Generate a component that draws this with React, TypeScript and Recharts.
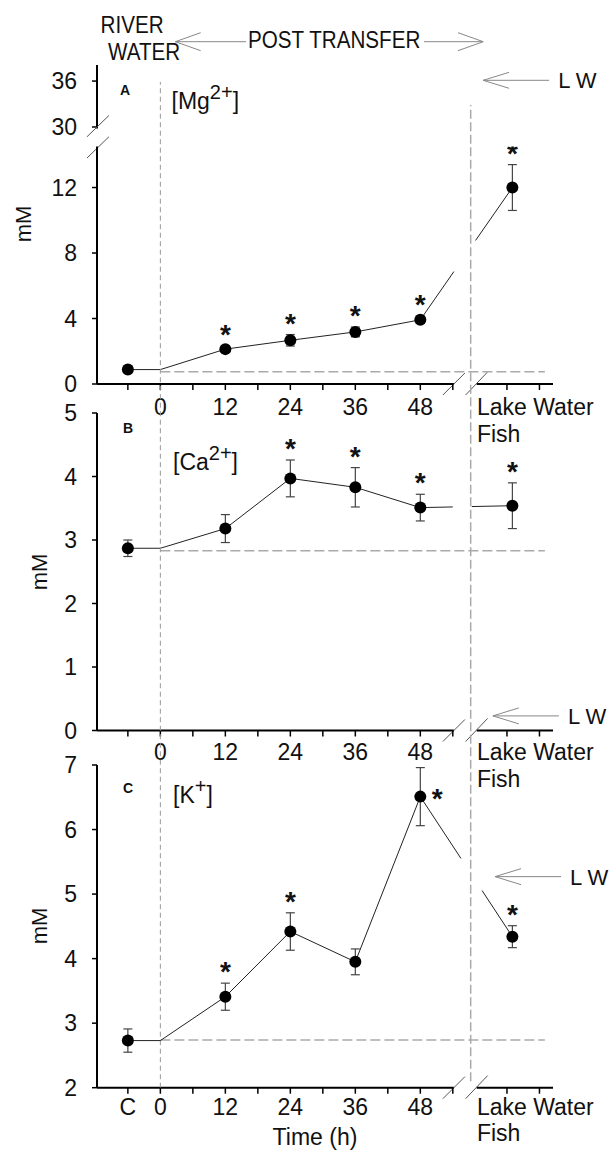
import React from 'react';
import {
  ComposedChart,
  Line,
  Scatter,
  XAxis,
  YAxis,
  ErrorBar,
  ReferenceLine,
  ReferenceDot,
} from 'recharts';

const W = 611;
const H = 1151;
const LEFT = 97;
const RIGHT = 58;
const X_MIN = -11.7;
const X_MAX = 72.5;
const FONT = "'Liberation Sans', Arial, Helvetica, sans-serif";
const INK = '#111';

// sampling times (h): -6 = river water control, 65 = lake water fish
const hours = [-6, 0, 12, 24, 36, 48, 65];

const mgMean = [0.88, 0.88, 2.13, 2.67, 3.18, 3.92, 12.0];
const mgSem = [0.12, 0, 0.2, 0.35, 0.3, 0.22, 1.4];
const mgSig = ['', '', 'top', 'top', 'top', 'top', 'top'];

const caMean = [2.87, 2.87, 3.18, 3.97, 3.83, 3.51, 3.54];
const caSem = [0.13, 0, 0.22, 0.29, 0.31, 0.21, 0.36];
const caSig = ['', '', '', 'top', 'top', 'top', 'top'];

const kMean = [2.73, 2.73, 3.41, 4.42, 3.95, 6.51, 4.34];
const kSem = [0.18, 0, 0.21, 0.29, 0.2, 0.45, 0.17];
const kSig = ['', '', 'top', 'top', '', 'right', 'top'];

// dashed control level and lake water level (arrow) for each ion
const mgCtrl = 0.75;
const caCtrl = 2.83;
const kCtrl = 2.74;
const mgLake = 36.1;
const caLake = 0.23;
const kLake = 5.27;

const xTicks = [-6, 0, 6, 12, 18, 24, 30, 36, 42, 48, 54, 64, 70];
const xTickText = ['C', '0', '', '12', '', '24', '', '36', '', '48', '', 'Lake Water', ''];

const pxPerHour = (W - LEFT - RIGHT) / (X_MAX - X_MIN);

function XTick(props: any) {
  const { x, y, payload, labelDy, showC } = props;
  const label = xTickText[xTicks.indexOf(payload.value)];
  if (!label || (label === 'C' && !showC)) return null;
  if (label === 'Lake Water') {
    return (
      <g fontFamily={FONT} fontSize={23} fill={INK}>
        <text x={x - 30} y={y + labelDy}>Lake Water</text>
        <text x={x - 30} y={y + labelDy + 26.5}>Fish</text>
      </g>
    );
  }
  return (
    <text x={x} y={y + labelDy} textAnchor="middle" fontFamily={FONT} fontSize={23} fill={INK}>
      {label}
    </text>
  );
}

const DotShape = (p: any) => <circle cx={p.cx} cy={p.cy} r={6} fill="#000" />;

const StarShape = (p: any) => {
  const right = p.payload.pos === 'right';
  const cx = right ? p.cx + 17 : p.cx;
  const cy = right ? p.cy - 5 : p.cy - 18;
  return (
    <text x={cx} y={cy + 16} textAnchor="middle" fontFamily={FONT} fontWeight="bold" fontSize={28} fill={INK}>
      *
    </text>
  );
};

const LakeArrow = (p: any) => {
  const { cx, cy } = p;
  return (
    <g>
      <line x1={cx} y1={cy} x2={cx + 66} y2={cy} stroke="#888" strokeWidth={1} />
      <polyline points={`${cx + 26},${cy - 8} ${cx},${cy} ${cx + 26},${cy + 8}`} fill="none" stroke="#888" strokeWidth={1} />
      <text x={cx + 75} y={cy + 8} fontFamily={FONT} fontSize={22} fill={INK}>
        L W
      </text>
    </g>
  );
};

const yTick = { fontSize: 23, fill: INK, fontFamily: FONT };
const axisStroke = { stroke: '#000', strokeWidth: 2 };
const tickStroke = { stroke: '#000', strokeWidth: 1.5 };

type PanelProps = {
  mean: number[];
  sem: number[];
  sig: string[];
  ctrl: number;
  lake?: number;
  lakeX?: number;
  domain: [number, number];
  ticks: number[];
  top: number;
  bottom: number;
  gap: [number, number];
  labelDy: number;
  showC: boolean;
  yBreak?: boolean;
  guides?: boolean;
};

function Panel(props: PanelProps) {
  const { mean, sem, sig, ctrl, lake, lakeX, domain, ticks, top, bottom, gap, labelDy, showC, yBreak, guides } = props;
  const pxU = (bottom - top) / (domain[1] - domain[0]);
  const valueAt = (px: number) => domain[0] + (bottom - px) / pxU;

  const pts = hours.map((x, i) => ({ x, y: mean[i], err: sem[i] }));
  const lineData = pts.slice(0, 6);
  const link = pts.slice(5, 7);
  const dots = pts.filter((_, i) => i !== 1);
  const stars = pts
    .map((p, i) => ({ x: p.x, y: sig[i] === 'right' ? p.y : p.y + p.err, pos: sig[i] }))
    .filter((s) => s.pos);

  // gap in the connector where the x axis is broken
  const span = link[1].x - link[0].x;
  const len = Math.hypot(span * pxPerHour, (link[1].y - link[0].y) * pxU);
  const f1 = (gap[0] - link[0].x) / span;
  const f2 = (gap[1] - link[0].x) / span;
  const dash = `${f1 * len} ${(f2 - f1) * len} ${len}`;

  const y0 = domain[0];
  const sx = 11 / pxPerHour;
  const sy = 11 / pxU;

  return (
    <div style={{ position: 'absolute', left: 0, top: 0 }}>
      <ComposedChart width={W} height={H} margin={{ top, right: RIGHT, bottom: H - bottom - 30, left: 0 }}>
        <XAxis
          dataKey="x"
          type="number"
          domain={[X_MIN, X_MAX]}
          allowDataOverflow
          ticks={xTicks}
          interval={0}
          axisLine={false}
          tickLine={tickStroke}
          tickSize={6}
          height={30}
          tick={(p: any) => <XTick {...p} labelDy={labelDy} showC={showC} />}
        />
        <YAxis
          dataKey="y"
          type="number"
          domain={domain}
          allowDataOverflow
          ticks={ticks}
          interval={0}
          width={LEFT}
          axisLine={axisStroke}
          tickLine={tickStroke}
          tickSize={5}
          tickMargin={15}
          tick={yTick}
        />
        {/* broken x axis */}
        <ReferenceLine segment={[{ x: X_MIN, y: y0 }, { x: 54.2, y: y0 }]} stroke="#000" strokeWidth={2} ifOverflow="visible" />
        <ReferenceLine segment={[{ x: 58.4, y: y0 }, { x: X_MAX, y: y0 }]} stroke="#000" strokeWidth={2} ifOverflow="visible" />
        <ReferenceLine segment={[{ x: 54.2 - sx, y: y0 - sy }, { x: 54.2 + sx, y: y0 + sy }]} stroke="#555" ifOverflow="visible" />
        <ReferenceLine segment={[{ x: 58.4 - sx, y: y0 - sy }, { x: 58.4 + sx, y: y0 + sy * 1.1 }]} stroke="#555" ifOverflow="visible" />
        {yBreak && (
          <ReferenceLine
            segment={[{ x: X_MIN - 1.85, y: domain[1] - 0.7 }, { x: X_MIN + 2.2, y: domain[1] + 0.6 }]}
            stroke="#555"
            ifOverflow="visible"
          />
        )}
        {yBreak && (
          <ReferenceLine
            segment={[{ x: X_MIN - 1.85, y: domain[1] + 0.6 }, { x: X_MIN + 2.2, y: domain[1] + 1.9 }]}
            stroke="#555"
            ifOverflow="visible"
          />
        )}
        <ReferenceLine
          segment={[{ x: 0, y: ctrl }, { x: 71, y: ctrl }]}
          stroke="#aaa"
          strokeWidth={1.5}
          strokeDasharray="10 4"
          ifOverflow="visible"
        />
        {guides && (
          <ReferenceLine
            segment={[{ x: 0, y: y0 }, { x: 0, y: valueAt(82) }]}
            stroke="#999"
            strokeDasharray="5 3.5"
            ifOverflow="visible"
          />
        )}
        {guides && (
          <ReferenceLine
            segment={[{ x: 57.3, y: y0 + 0.1 }, { x: 57.3, y: valueAt(105) }]}
            stroke="#aaa"
            strokeWidth={1.5}
            strokeDasharray="9 3.5"
            ifOverflow="visible"
          />
        )}
        {lake !== undefined && lakeX !== undefined && (
          <ReferenceDot x={lakeX} y={lake} ifOverflow="visible" shape={LakeArrow} />
        )}
        <Line data={lineData} dataKey="y" stroke="#222" strokeWidth={1} dot={false} isAnimationActive={false} />
        <Line
          data={link}
          dataKey="y"
          stroke="#222"
          strokeWidth={1}
          strokeDasharray={dash}
          dot={false}
          isAnimationActive={false}
        />
        <Scatter data={dots} dataKey="y" shape={DotShape} isAnimationActive={false}>
          <ErrorBar dataKey="err" direction="y" width={4.5} stroke="#444" strokeWidth={1.2} />
        </Scatter>
        <Scatter data={stars} dataKey="y" shape={StarShape} isAnimationActive={false} />
      </ComposedChart>
    </div>
  );
}

function UpperMg() {
  return (
    <div style={{ position: 'absolute', left: 0, top: 0 }}>
      <ComposedChart width={W} height={H} margin={{ top: 65, right: RIGHT, bottom: H - 128.5, left: 0 }}>
        <XAxis dataKey="x" type="number" domain={[X_MIN, X_MAX]} allowDataOverflow hide />
        <YAxis
          dataKey="y"
          type="number"
          domain={[29.8, 38.1]}
          allowDataOverflow
          ticks={[30, 36]}
          interval={0}
          width={LEFT}
          axisLine={axisStroke}
          tickLine={tickStroke}
          tickSize={5}
          tickMargin={15}
          tick={yTick}
        />
        <ReferenceDot x={59.6} y={mgLake} ifOverflow="visible" shape={LakeArrow} />
      </ComposedChart>
    </div>
  );
}

function Ion({ x, y, base, sup }: { x: number; y: number; base: string; sup: string }) {
  return (
    <text x={x} y={y} fontFamily={FONT} fontSize={23} fill={INK}>
      [{base}
      <tspan fontSize={20} dy={-10}>
        {sup}
      </tspan>
      <tspan dy={10}>]</tspan>
    </text>
  );
}

// condensed header lettering
function Narrow({ x, y, children }: { x: number; y: number; children: string }) {
  return (
    <text transform={`translate(${x},${y}) scale(0.86,1)`} fontFamily={FONT} fontSize={24} fill={INK}>
      {children}
    </text>
  );
}

function Overlay() {
  const gray = '#888';
  return (
    <svg width={W} height={H} style={{ position: 'absolute', left: 0, top: 0 }}>
      <Narrow x={100.5} y={33}>RIVER</Narrow>
      <Narrow x={108} y={60}>WATER</Narrow>
      <Narrow x={248} y={48}>POST TRANSFER</Narrow>
      <line x1={175.4} y1={41.7} x2={246} y2={41.7} stroke={gray} />
      <polyline points="200.7,32.7 175.4,41.7 200.7,50.7" fill="none" stroke={gray} />
      <line x1={424} y1={41.7} x2={483.2} y2={41.7} stroke={gray} />
      <polyline points="458,32.7 483.2,41.7 458,50.7" fill="none" stroke={gray} />

      <g fontFamily={FONT} fontWeight="bold" fontSize={14} fill={INK}>
        <text x={120} y={95}>A</text>
        <text x={123} y={433}>B</text>
        <text x={123} y={793}>C</text>
      </g>
      <Ion x={171.5} y={109} base="Mg" sup="2+" />
      <Ion x={173} y={470} base="Ca" sup="2+" />
      <Ion x={173} y={803} base="K" sup="+" />

      <g fontFamily={FONT} fontSize={22} fill={INK} textAnchor="middle">
        <text transform="translate(31,224) rotate(-90)">mM</text>
        <text transform="translate(47,572) rotate(-90)">mM</text>
        <text transform="translate(47,926) rotate(-90)">mM</text>
        <text x={315} y={1145} fontSize={23}>Time (h)</text>
      </g>
    </svg>
  );
}

export default function App() {
  return (
    <div style={{ position: 'absolute', left: 0, top: 0, width: W, height: H, background: '#fff', overflow: 'hidden' }}>
      <UpperMg />
      <Panel
        mean={mgMean}
        sem={mgSem}
        sig={mgSig}
        ctrl={mgCtrl}
        domain={[0, 14.5]}
        ticks={[0, 4, 8, 12]}
        top={146.6}
        bottom={384}
        gap={[54.2, 58.2]}
        labelDy={23}
        showC={false}
        yBreak
      />
      <Panel
        mean={caMean}
        sem={caSem}
        sig={caSig}
        ctrl={caCtrl}
        lake={caLake}
        lakeX={61.4}
        domain={[0, 5]}
        ticks={[0, 1, 2, 3, 4, 5]}
        top={413}
        bottom={730.5}
        gap={[54, 57.5]}
        labelDy={21.5}
        showC={false}
      />
      <Panel
        mean={kMean}
        sem={kSem}
        sig={kSig}
        ctrl={kCtrl}
        lake={kLake}
        lakeX={61.8}
        domain={[2, 7]}
        ticks={[2, 3, 4, 5, 6, 7]}
        top={765}
        bottom={1087.7}
        gap={[55.5, 59.4]}
        labelDy={19}
        showC
        guides
      />
      <Overlay />
    </div>
  );
}
